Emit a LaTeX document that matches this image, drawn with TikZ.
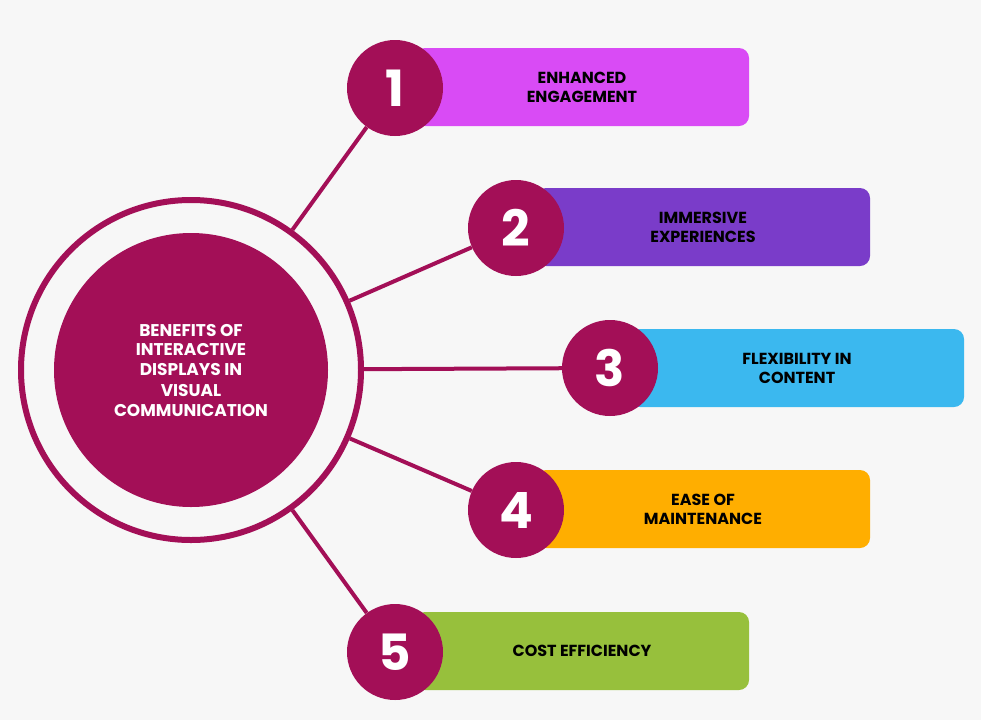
\documentclass[tikz,border=0pt]{standalone}
\usepackage{fontspec}
\setmainfont{Poppins}
\usepackage{xcolor}
\usetikzlibrary{positioning}
\definecolor{bgcol}{HTML}{F7F7F7}
\definecolor{berry}{HTML}{A30F57}
\definecolor{barpink}{HTML}{D94BF5}
\definecolor{barpurple}{HTML}{7A3CC9}
\definecolor{barblue}{HTML}{3BB8EF}
\definecolor{barorange}{HTML}{FFAE00}
\definecolor{bargreen}{HTML}{97C03C}
\tikzstyle{ring} = [circle, draw=berry, line width=6pt, minimum size=340pt, inner sep=0pt]
\tikzstyle{hub} = [circle, fill=berry, minimum size=274pt, inner sep=0pt, text=white, align=center, font=\bfseries\fontsize{17}{20}\selectfont]
\tikzstyle{num} = [circle, fill=berry, minimum size=96pt, inner sep=0pt, text=white, font=\bfseries\fontsize{50}{50}\selectfont]
\tikzstyle{bar} = [rectangle, rounded corners=10pt, minimum height=78pt, inner sep=0pt, align=center, font=\bfseries\fontsize{16}{19}\selectfont]
\tikzstyle{link} = [berry, line width=4pt]

\begin{document}
\begin{tikzpicture}[x=1pt, y=-1pt]
		\fill[bgcol] (0,0) rectangle (981,720);
		\useasboundingbox (0,0) rectangle (981,720);
		
		% Central hub
		\node (ring) [ring] at (191,370) {};
		\node (hub) [hub] at (191,370) {BENEFITS OF\\INTERACTIVE\\DISPLAYS IN\\VISUAL\\COMMUNICATION};
		
		% Bars
		\node (bar1) [bar, fill=barpink, minimum width=334pt] at (582,87) {ENHANCED\\ENGAGEMENT};
		\node (bar2) [bar, fill=barpurple, minimum width=334pt] at (703,227) {IMMERSIVE\\EXPERIENCES};
		\node (bar3) [bar, fill=barblue, minimum width=334pt] at (797,368) {FLEXIBILITY IN\\CONTENT};
		\node (bar4) [bar, fill=barorange, minimum width=334pt] at (703,509) {EASE OF\\MAINTENANCE};
		\node (bar5) [bar, fill=bargreen, minimum width=334pt] at (582,651) {COST EFFICIENCY};
		
		% Number circles
		\node (n1) [num] at (395,88) {1};
		\node (n2) [num] at (516,228) {2};
		\node (n3) [num] at (610,368) {3};
		\node (n4) [num] at (516,510) {4};
		\node (n5) [num] at (395,652) {5};
		
		% Links
		\draw [link] (ring) -- (n1);
		\draw [link] (ring) -- (n2);
		\draw [link] (ring) -- (n3);
		\draw [link] (ring) -- (n4);
		\draw [link] (ring) -- (n5);
		
	\end{tikzpicture}
\end{document}
